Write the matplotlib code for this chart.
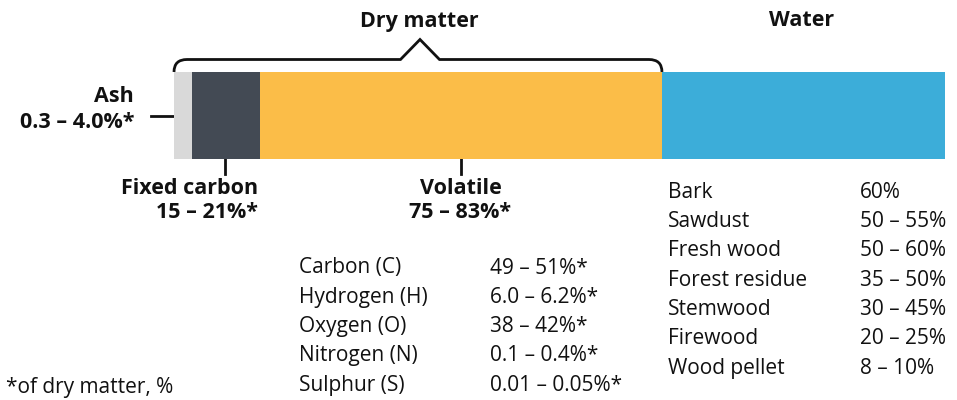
import matplotlib
matplotlib.use("Agg")
import matplotlib.pyplot as plt
from matplotlib.path import Path
from matplotlib.patches import PathPatch
import numpy as np

plt.rcParams["font.family"] = ["Open Sans", "DejaVu Sans"]

# share of bar width (%) for each component
SEGMENTS = ["Ash", "Fixed carbon", "Volatile", "Water"]
SHARES = [2.33, 8.82, 52.14, 36.71]
COLORS = ["#d9d9d9", "#434a54", "#fbbd48", "#3cadd9"]

ASH_LABEL = ["Ash", "0.3 – 4.0%*"]
FIXED_LABEL = ["Fixed carbon", "15 – 21%*"]
VOLATILE_LABEL = ["Volatile", "75 – 83%*"]

ELEMENTS = ["Carbon (C)", "Hydrogen (H)", "Oxygen (O)", "Nitrogen (N)", "Sulphur (S)"]
ELEMENT_VALUES = ["49 – 51%*", "6.0 – 6.2%*", "38 – 42%*", "0.1 – 0.4%*", "0.01 – 0.05%*"]

WOOD = ["Bark", "Sawdust", "Fresh wood", "Forest residue", "Stemwood", "Firewood", "Wood pellet"]
WATER_VALUES = ["60%", "50 – 55%", "50 – 60%", "35 – 50%", "30 – 45%", "20 – 25%", "8 – 10%"]

W, H = 957, 400
TXT = "#111111"
FS = 15
FSB = 15.5

fig = plt.figure(figsize=(W / 100, H / 100), dpi=100)

# overlay in pixel coordinates for annotations
ov = fig.add_axes([0, 0, 1, 1])
ov.set_xlim(0, W); ov.set_ylim(H, 0); ov.axis("off")

# the stacked bar
bx0, bx1, by0, by1 = 174, 945, 72, 158.5
bar = fig.add_axes([bx0 / W, 1 - by1 / H, (bx1 - bx0) / W, (by1 - by0) / H])
left = np.concatenate([[0], np.cumsum(SHARES)[:-1]])
bar.barh(0, SHARES, left=left, color=COLORS, height=1, edgecolor="none")
bar.set_xlim(0, 100); bar.set_ylim(-0.5, 0.5); bar.axis("off")

def px(v):
    return bx0 + v / 100 * (bx1 - bx0)

edges = np.cumsum(SHARES)
dry_end = px(edges[2])

# brace over dry matter
r, yb, peak = 13, 59.5, 39.5
mid = 420
verts = [(bx0, by0), (bx0, yb), (bx0 + r, yb), (mid - 19.5, yb), (mid, peak),
         (mid + 19.5, yb), (dry_end - r, yb), (dry_end, yb), (dry_end, by0)]
codes = [Path.MOVETO, Path.CURVE3, Path.CURVE3, Path.LINETO, Path.LINETO,
         Path.LINETO, Path.LINETO, Path.CURVE3, Path.CURVE3]
ov.add_patch(PathPatch(Path(verts, codes), fill=False, lw=2, ec=TXT, capstyle="butt", joinstyle="miter"))

bold = dict(fontsize=FSB, fontweight="bold", color=TXT, va="center")
ov.text(419, 22, "Dry matter", ha="center", **bold)
ov.text(802, 20, "Water", ha="center", **bold)

# ash
ov.plot([151, bx0], [116, 116], color=TXT, lw=2)
ov.text(134, 96, ASH_LABEL[0], ha="right", **bold)
ov.text(134, 122, ASH_LABEL[1], ha="right", **bold)

# fixed carbon
xf = 225
ov.plot([xf, xf], [by1, 174], color=TXT, lw=2)
ov.text(258, 189, FIXED_LABEL[0], ha="right", **bold)
ov.text(258, 213, FIXED_LABEL[1], ha="right", **bold)

# volatile
xv = 460.5
ov.plot([xv, xv], [by1, 174], color=TXT, lw=2)
ov.text(xv, 189, VOLATILE_LABEL[0], ha="center", **bold)
ov.text(xv, 213, VOLATILE_LABEL[1], ha="center", **bold)

# element table
for i, (n, v) in enumerate(zip(ELEMENTS, ELEMENT_VALUES)):
    y = 268 + i * 29.3
    ov.text(299, y, n, ha="left", va="center", fontsize=FS, color=TXT)
    ov.text(490, y, v, ha="left", va="center", fontsize=FS, color=TXT)

# water content table
for i, (n, v) in enumerate(zip(WOOD, WATER_VALUES)):
    y = 192 + i * 29.35
    ov.text(668, y, n, ha="left", va="center", fontsize=FS, color=TXT)
    ov.text(860, y, v, ha="left", va="center", fontsize=FS, color=TXT)

ov.text(6, 387, "*of dry matter, %", ha="left", va="center", fontsize=FS, color=TXT)

fig.savefig("out.png", dpi=100)
